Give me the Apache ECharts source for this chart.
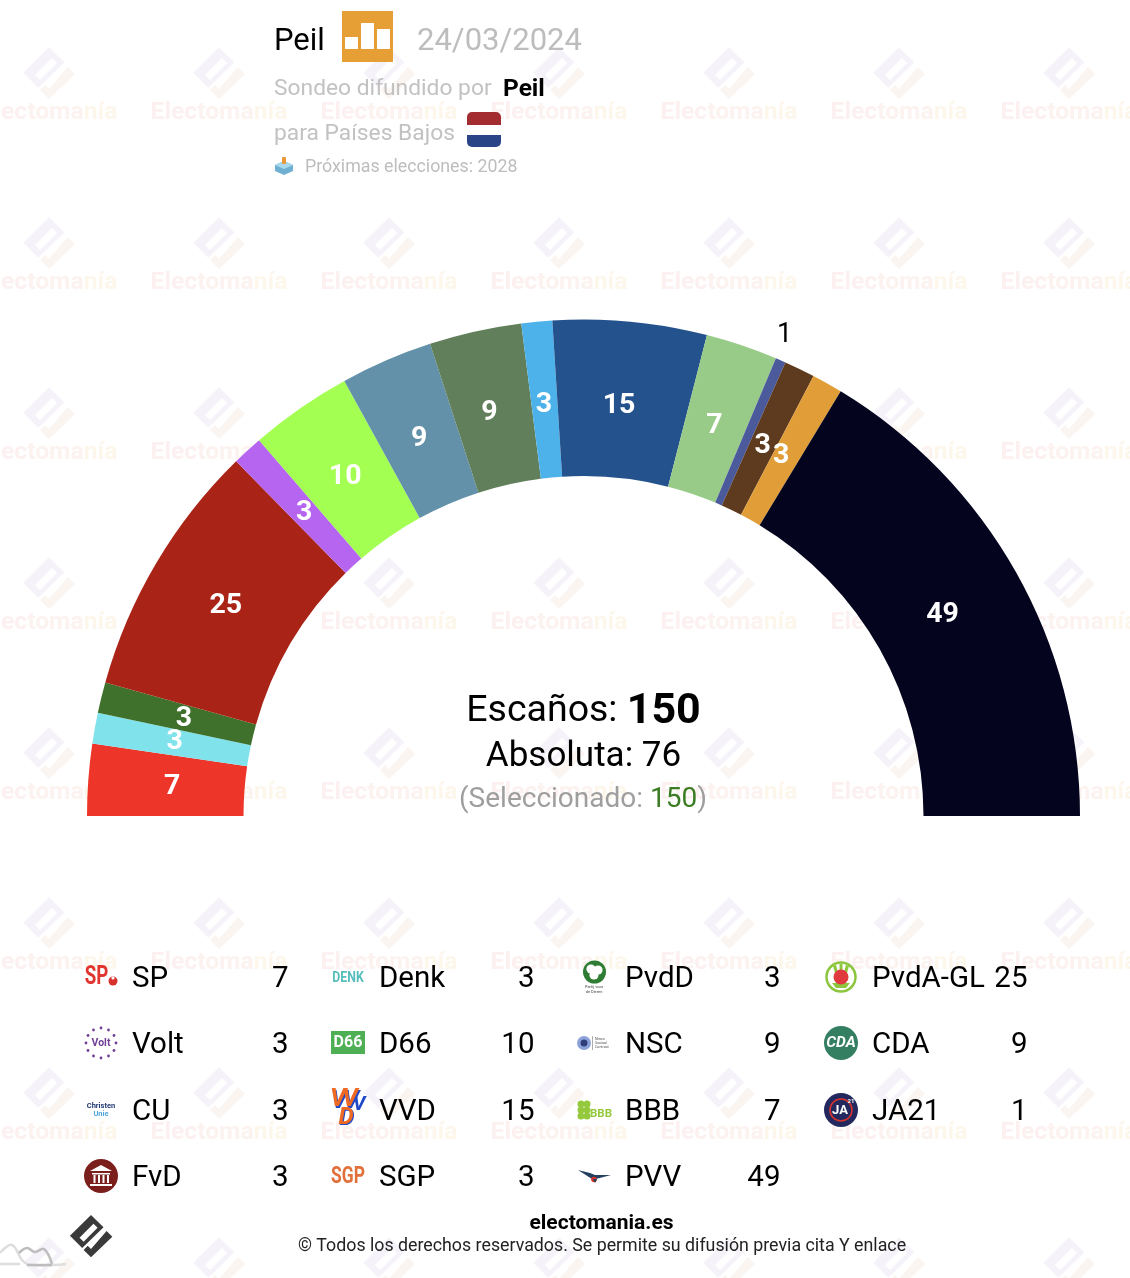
<!DOCTYPE html>
<html><head><meta charset="utf-8">
<style>html,body{margin:0;padding:0;background:#fff}#c{width:1130px;height:1278px}</style>
<script src="https://cdn.jsdelivr.net/npm/echarts@6/dist/echarts.min.js"></script>
</head><body><div id="c"></div>
<script>
const parties=['SP','Denk','PvdD','PvdA-GL','Volt','D66','NSC','CDA','CU','VVD','BBB','JA21','FvD','SGP','PVV'];
const seats=[7,3,3,25,3,10,9,9,3,15,7,1,3,3,49];
const partyColors=['#EE3529','#80E2EB','#3F712C','#AA2317','#B565F0','#A4FF53','#6391A9','#607F5A','#4EB2EA','#24528D','#97CB87','#4B5A9B','#5E3B1E','#E19E38','#04041E'];
const legendCol1=['SP','Volt','CU','FvD'];
const legendCol2=['Denk','D66','VVD','SGP'];
const legendCol3=['PvdD','NSC','BBB','PVV'];
const legendCol4=['PvdA-GL','CDA','JA21'];
const totalSeats=150, majority=76, selected=150;

const F='Roboto, sans-serif';
const g=[];
const T=(x,y,text,font,fill,align,z)=>g.push({type:'text',z:z||5,silent:true,style:{x,y,text,font:font+' '+F,fill,textAlign:align||'left',textVerticalAlign:'middle'}});
const TS=(x,y,text,font,fill,sx)=>g.push({type:'text',z:5,silent:true,x,y,scaleX:sx,style:{x:0,y:0,text,font:font+' '+F,fill,textAlign:'center',textVerticalAlign:'middle'}});
const C=(cx,cy,r,fill,extra)=>g.push({type:'circle',z:5,silent:true,shape:{cx,cy,r},style:Object.assign({fill},extra||{})});
const R=(x,y,w,h,fill,r)=>g.push({type:'rect',z:5,silent:true,shape:{x,y,width:w,height:h,r:r||0},style:{fill}});
const P=(pts,fill,z)=>g.push({type:'polygon',z:z||5,silent:true,shape:{points:pts},style:{fill}});
const L=(pts,stroke,w,smooth)=>g.push({type:'polyline',z:5,silent:true,shape:{points:pts,smooth:smooth||0},style:{stroke,lineWidth:w,fill:'none'}});

function mark(cx,cy,s,c1,c2,z){
  const m=a=>a.map(p=>[cx+p[0]*s,cy+p[1]*s]);
  P(m([[0,-25.7],[15.3,-10.7],[-10.7,14.7],[-25.7,-.3]]),c1,z);
  P(m([[3,-15],[8,-10],[-9,7],[-14,2]]),'#fff',z);
  P(m([[19,-6],[26,1],[0,26],[-9,17],[-4,12],[0,16]]),c2,z);
}
for(let r=0;r<8;r++)for(let c=0;c<7;c++){
  const x=49+170*c,y=73+170*r;
  mark(x,y,1,'#F5F2F9','#FBF5F1',-3);
  g.push({type:'text',z:-3,silent:true,style:{x,y:y+40,textAlign:'center',textVerticalAlign:'middle',
    text:'{a|Elec}{b|toma}{c|nía}',rich:{
      a:{font:'bold 24.7px '+F,fill:'#FCF0F0'},b:{font:'bold 24.7px '+F,fill:'#FCF2EF'},c:{font:'bold 24.7px '+F,fill:'#FDF6EB'}}}});
}
// Header
T(274,42,'Peil','31px','#000');
R(342,11,51,51,'#E59F35');
R(345,37,13,12,'#fff');R(361,23,13,26,'#fff');R(377,29,13,20,'#fff');
T(417,42,'24/03/2024','31px','#BDBDBD');
T(274,89,'Sondeo difundido por','22.8px','#C2C2C2');
T(503,90,'Peil','bold 24.5px','#000');
T(274,134,'para Países Bajos','22.8px','#C2C2C2');
R(467,112,34,13,'#A32C30',5);R(467,119,34,6,'#A32C30');
R(467,125,34,10,'#fff');
R(467,135,34,12,'#2A4587',5);R(467,135,34,6,'#2A4587');
P([[284,161],[293,165],[293,171],[284,175],[275,171],[275,165]],'#6FB0D2');
P([[284,161],[293,165],[284,169],[275,165]],'#A9D8EC');
R(282,157,4,7,'#E8993A',1);
T(305,168,'Próximas elecciones: 2028','17.8px','#BDBDBD');

// Centre text
g.push({type:'text',z:5,silent:true,style:{x:583.5,y:712,textAlign:'center',textVerticalAlign:'middle',
  text:'{a|Escaños: }{b|'+totalSeats+'}',rich:{a:{font:'37.5px '+F,fill:'#000'},b:{font:'bold 43px '+F,fill:'#000'}}}});
T(583.5,757,'Absoluta: '+majority,'35px','#000','center');
g.push({type:'text',z:5,silent:true,style:{x:583,y:800,textAlign:'center',textVerticalAlign:'middle',
  text:'{a|(Seleccionado: }{b|'+selected+'}{a|)}',rich:{a:{font:'28px '+F,fill:'#9E9E9E'},b:{font:'28px '+F,fill:'#3B7D23'}}}});

// Legend
const logos={
 'SP':(x,y)=>{TS(x-4.5,y,'SP','bold 26px','#E1352F',.72);C(x+12,y+4,4.5,'#D8322C');C(x+12,y+1,1.6,'#fff');},
 'Denk':(x,y)=>TS(x,y+1,'DENK','bold 15px','#57BDBB',.82),
 'PvdD':(x,y)=>{C(x+.5,y-5,11.5,'#2F7D32');C(x-3,y-8,4.6,'#fff');C(x+4,y-7,4.6,'#fff');C(x,y-2,4.6,'#fff');
   T(x,y+10,'Partij voor','4px','#444','center');T(x,y+15,'de Dieren','4px','#444','center');},
 'PvdA-GL':(x,y)=>{C(x,y,14.5,'#fff',{stroke:'#8CC63F',lineWidth:2.5});P([[x-9,y+6],[x+9,y+6],[x+5,y+11],[x-5,y+11]],'#8CC63F');
   P([[x-8,y-11],[x-5,y-12],[x-3,y-5],[x-6,y-4]],'#8CC63F');P([[x+8,y-11],[x+5,y-12],[x+3,y-5],[x+6,y-4]],'#8CC63F');R(x-1.5,y-13,3,6,'#8CC63F');C(x,y,7.5,'#E0393E');},
 'Volt':(x,y)=>{for(let i=0;i<12;i++){const a=i*Math.PI/6;C(x+15*Math.cos(a),y+15*Math.sin(a),1.4,'#6F3F98');}T(x,y,'Volt','bold 10.5px','#6F3F98','center');},
 'D66':(x,y)=>{R(x-17,y-12,34,23,'#4FAF54');T(x,y,'D66','bold 16px','#fff','center');},
 'NSC':(x,y)=>{C(x-10,y,7,'#8DA2DA');C(x-10,y,3.5,'#2E3F78');R(x-2,y-7,.7,14,'#888');T(x+1,y-4,'Nieuw','3.6px','#555');T(x+1,y,'Sociaal','3.6px','#555');T(x+1,y+4,'Contract','3.6px','#555');},
 'CDA':(x,y)=>{C(x,y,17,'#347E62');T(x,y,'CDA','italic bold 15.5px','#fff','center');},
 'CU':(x,y)=>{T(x,y-4,'Christen','bold 7.5px','#233A73','center');T(x,y+4,'Unie','bold 7.5px','#4FA6DE','center');},
 'VVD':(x,y)=>{
   T(x-9,y-9,'V','italic bold 26px','#1F48C9','center');T(x+3,y-9,'V','italic bold 26px','#1F48C9','center');T(x+11,y-5,'V','italic bold 20px','#1F48C9','center');
   T(x-10,y-10,'V','italic bold 25px','#EE6A24','center');T(x+2,y-10,'V','italic bold 25px','#EE6A24','center');
   T(x-1,y+9,'D','italic bold 24px','#1F48C9','center');T(x-2,y+8,'D','italic bold 24px','#EE6A24','center');},
 'BBB':(x,y)=>{[[-13,-6],[-7,-6],[-13,0],[-7,0],[-13,6],[-7,6]].forEach(p=>C(x+p[0],y+p[1],3.5,'#94C83D'));T(x-4,y+4,'BBB','bold 11.5px','#94C83D');},
 'JA21':(x,y)=>{C(x,y,17,'#23295F');C(x,y,11,'none',{stroke:'#D8322C',lineWidth:1.6});T(x-1,y+1,'JA','bold 13px','#fff','center');T(x+10,y-9,'21','bold 6px','#fff','center');},
 'FvD':(x,y)=>{C(x,y,17,'#7A1F1C');P([[x,y-11],[x+11,y-5],[x-11,y-5]],'#fff');R(x-9,y-3,18,1.5,'#fff');
   [-7.5,-3,1.5,6].forEach(d=>R(x+d,y-1,2,8,'#fff'));R(x-11,y+8,22,2,'#fff');},
 'SGP':(x,y)=>TS(x,y+1,'SGP','bold 23px','#E2703A',.76),
 'PVV':(x,y)=>{P([[x-16,y-6],[x-4,y-3],[x+1,y-1],[x+17,y-1],[x+2,y+3],[x-2,y+3]],'#24405F');C(x,y+3.5,2.8,'#D8322C');P([[x-1,y+3],[x+3,y+3],[x+1,y+7]],'#24405F');}
};
const colX=[132,379,625,872], valX=[288,534,780,1027], iconX=[101,348,594,841], rowY=[977,1043,1110,1176];
[legendCol1,legendCol2,legendCol3,legendCol4].forEach((col,ci)=>col.forEach((name,ri)=>{
  const y=rowY[ri];
  logos[name](iconX[ci],y);
  T(colX[ci],y+3,name,'29.5px','#000');
  T(valX[ci]+.5,y+3,String(seats[parties.indexOf(name)]),'29.5px','#000','right');
}));

// Footer
mark(91,1236,.82,'#3A3A3A','#3A3A3A',5);
L([[0,1253],[12,1245],[22,1260],[30,1265],[66,1264]],'#DEDEDE',2.5,.4);
L([[0,1264],[20,1264]],'#DEDEDE',2.5);
L([[19,1253],[27,1248],[35,1252],[44,1249],[52,1264]],'#BDBDBD',2.5,.4);
L([[27,1265],[52,1265]],'#BDBDBD',2.5);
T(601.5,1224,'electomania.es','bold 21px','#000','center');
T(602,1247,'© Todos los derechos reservados. Se permite su difusión previa cita Y enlace','17.8px','#222','center');

// Seat labels: computed from the seat counts, centred on the middle of each slice's arc
const CX=583.5,CY=816,INNER=340,OUTER=496.5;
let cum=0;
const midAngle=seats.map(v=>{const m=(cum+v/2)/totalSeats*Math.PI;cum+=v;return m;});
const labelNudge={'SP':[2.5,1],'Denk':[-.5,-1],'PvdD':[3.5,2],'PvdA-GL':[-.5,1],'Volt':[1.5,2],'D66':[-1.5,2],'NSC':[.5,4],'CDA':[-3.5,2],'CU':[-.5,2],'VVD':[-3.5,3],'BBB':[-1.5,3],'JA21':[-7,0],'FvD':[-1.5,4],'SGP':[-6,1],'PVV':[-2.5,3]};
const labelPos=i=>{
  const r=seats[i]===1?524:415, a=midAngle[i], n=labelNudge[parties[i]];
  return {x:CX-r*Math.cos(a)+n[0],y:CY-r*Math.sin(a)+n[1]};
};
const data=parties.map((name,i)=>({name,value:seats[i],itemStyle:{color:partyColors[i]},
  label:seats[i]===1?{color:'#000',fontWeight:'normal',fontSize:27}:undefined}));

const chart=echarts.init(document.getElementById('c'),null,{renderer:'canvas'});
chart.setOption({
  animation:false,backgroundColor:'#fff',
  graphic:{elements:g},
  series:[{type:'pie',center:[CX,CY],radius:[INNER,OUTER],startAngle:180,endAngle:0,clockwise:true,
    avoidLabelOverlap:false,silent:true,percentPrecision:4,minShowLabelAngle:0,
    label:{show:true,position:'inside',formatter:'{c}',fontFamily:'Roboto',fontSize:28.5,fontWeight:'bold',color:'#fff',align:'center',verticalAlign:'middle'},
    labelLine:{show:false},emphasis:{disabled:true},data,z:2,
    labelLayout:p=>Object.assign({hideOverlap:false,align:'center',verticalAlign:'middle'},labelPos(p.dataIndex))}]
});
</script></body></html>
